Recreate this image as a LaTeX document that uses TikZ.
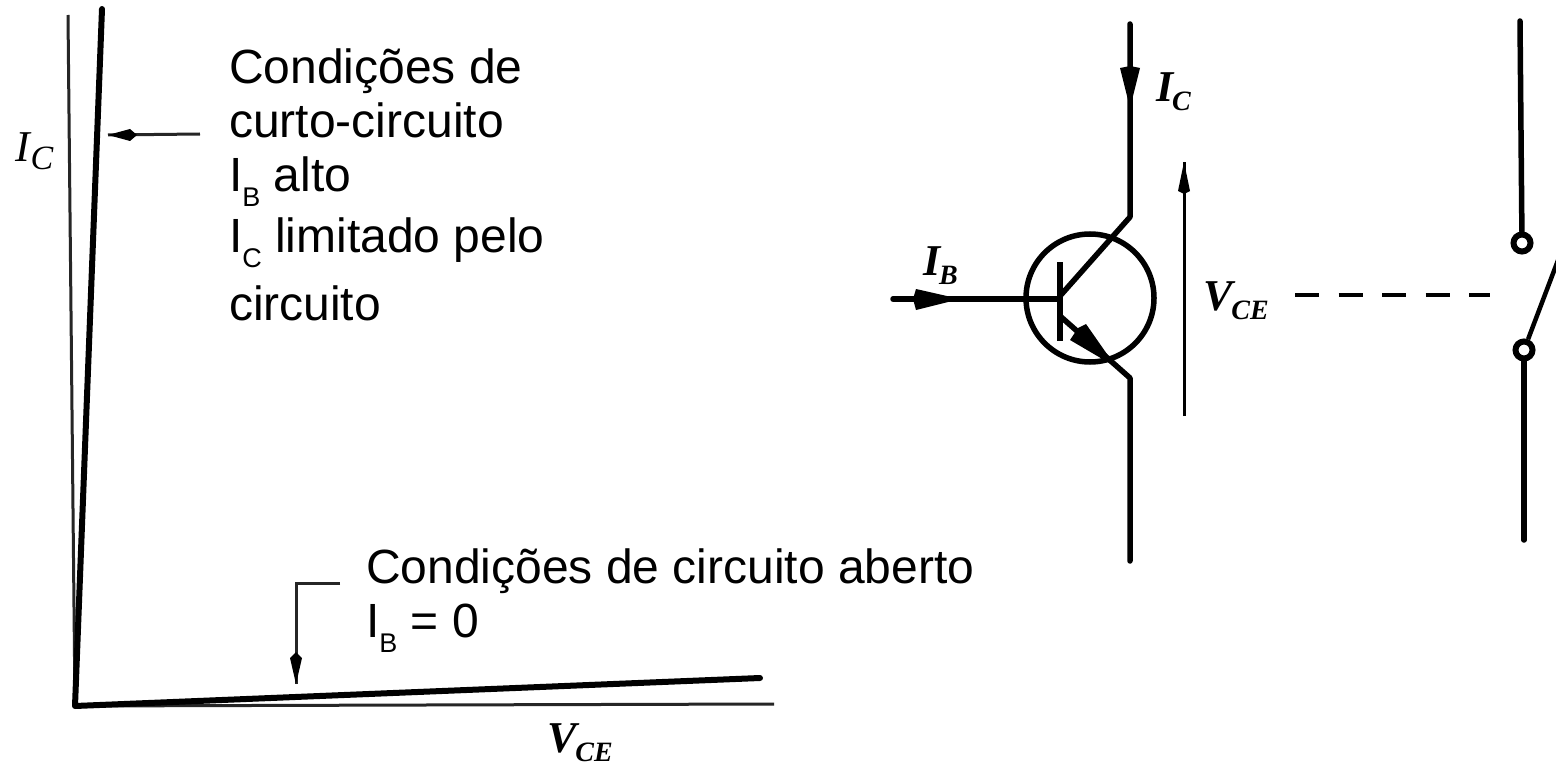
\documentclass[tikz,border=0pt]{standalone}
\usepackage{fontspec}
\setmainfont{Liberation Sans}
\newfontfamily\serifbi[BoldFont=Liberation Serif Bold Italic,ItalicFont=Liberation Serif Italic]{Liberation Serif}
\newcommand{\lblsize}{\fontsize{48}{48}\selectfont}
\newcommand{\subsize}{\fontsize{27}{27}\selectfont}
\newcommand{\sublbl}[1]{\raisebox{-15pt}{\subsize #1}}
\newcommand{\symb}[2]{{\serifbi\bfseries\fontsize{44}{44}\selectfont #1\kern-1pt\raisebox{-9pt}{\fontsize{28}{28}\selectfont #2}}}
\tikzset{
  txt/.style={anchor=base west,inner sep=0pt,outer sep=0pt,font=\lblsize},
  sym/.style={anchor=base west,inner sep=0pt,outer sep=0pt},
  wire/.style={line width=5.5pt,black,line cap=round},
  thin wire/.style={line width=3pt,black!85},
  head/.style={fill=black,draw=none},
}
\begin{document}
\begin{tikzpicture}[x=1pt,y=-1pt]
\useasboundingbox[fill=white] (0,0) rectangle (1556,765);
% labels
\node[txt] (t1) at (229,84) {Condições de};
\node[txt] (t2) at (229,138) {curto-circuito};
\node[txt] (t3) at (229,192) {I\sublbl{B} alto};
\node[txt] (t4) at (229,252) {I\sublbl{C} limitado pelo};
\node[txt] (t5) at (229,320) {circuito};
\node[txt] (t6) at (366,583) {Condições de circuito aberto};
\node[txt] (t7) at (366,637) {I\sublbl{B} = 0};
\node[sym] (sIC) at (16,162) {{\serifbi\itshape\fontsize{44}{44}\selectfont I\raisebox{-8pt}{\fontsize{34}{34}\selectfont C}}};
\node[sym] (sVCE) at (547,752) {\symb{V}{CE}};
\node[sym] (sIC2) at (1156,102) {\symb{I}{C}};
\node[sym] (sIB) at (923,275) {\symb{I}{B}};
\node[sym] (sVCE2) at (1203,310) {\symb{V}{CE}};
% graph
\coordinate (origin) at (75,706);
\coordinate (yaxis) at (68,15);
\coordinate (xaxis) at (774,704);
\coordinate (sat) at (102,9);
\coordinate (off) at (760,678);
\draw[thin wire] (yaxis) -- (origin);
\draw[thin wire] (origin) -- (xaxis);
\draw[line width=6pt,line cap=round,line join=round] (sat) -- (origin) -- (off);
\coordinate (a1s) at (200,134);
\coordinate (a1t) at (108,135);
\draw[thin wire] (a1s) -- (a1t);
\fill[head] (a1t) -- (130,129) -- (137,135) -- (130,141) -- cycle;
\coordinate (a2s) at (340,583);
\coordinate (a2c) at (296,583);
\coordinate (a2t) at (296,684);
\draw[thin wire] (a2s) -- (a2c) -- (a2t);
\fill[head] (a2t) -- (290,658) -- (296,652) -- (302,658) -- cycle;
% transistor
\coordinate (cT) at (1130,24);
\coordinate (cK) at (1130,217);
\coordinate (bJ) at (1060,296);
\coordinate (eJ) at (1060,316);
\coordinate (eK) at (1130,378);
\coordinate (eB) at (1130,561);
\coordinate (bL) at (893,299);
\coordinate (bR) at (1060,299);
\node[circle,draw,line width=5.5pt,minimum size=128pt,inner sep=0pt] (Q) at (1090,298) {};
\draw[wire,line join=round] (cT) -- (cK) -- (bJ);
\draw[wire,line join=round] (eJ) -- (eK) -- (eB);
\draw[wire] (bL) -- (bR);
\draw[line width=6pt] (1060,262) -- (1060,341);
\fill[head] (1130,108) -- (1120,68) -- (1130,66) -- (1140,68) -- cycle;
\fill[head] (960,299) -- (916,289) -- (913,299) -- (916,310) -- cycle;
\fill[head] (1116,367) -- (1070,340) -- (1078,328) -- (1086,324) -- cycle;
% V_CE arrow
\coordinate (vB) at (1184,416);
\coordinate (vT) at (1184,162);
\draw[line width=3pt] (vB) -- (vT);
\fill[head] (vT) -- (1190,191) -- (1184,194) -- (1178,191) -- cycle;
% dashes
\coordinate (d1) at (1295,295);
\coordinate (d2) at (1490,295);
\draw[line width=4pt,dash pattern=on 24pt off 19.5pt] (d1) -- (d2);
% switch
\node[circle,draw,line width=6pt,minimum size=17pt,inner sep=0pt] (sw1) at (1522,243) {};
\node[circle,draw,line width=6pt,minimum size=17pt,inner sep=0pt] (sw2) at (1524,350) {};
\coordinate (s1) at (1520,21);
\coordinate (s2) at (1524,540);
\coordinate (s3) at (1560,255);
\draw[wire] (s1) -- (sw1);
\draw[wire] (sw2) -- (s2);
\draw[line width=4.5pt] (sw2) -- (s3);
\end{tikzpicture}
\end{document}
